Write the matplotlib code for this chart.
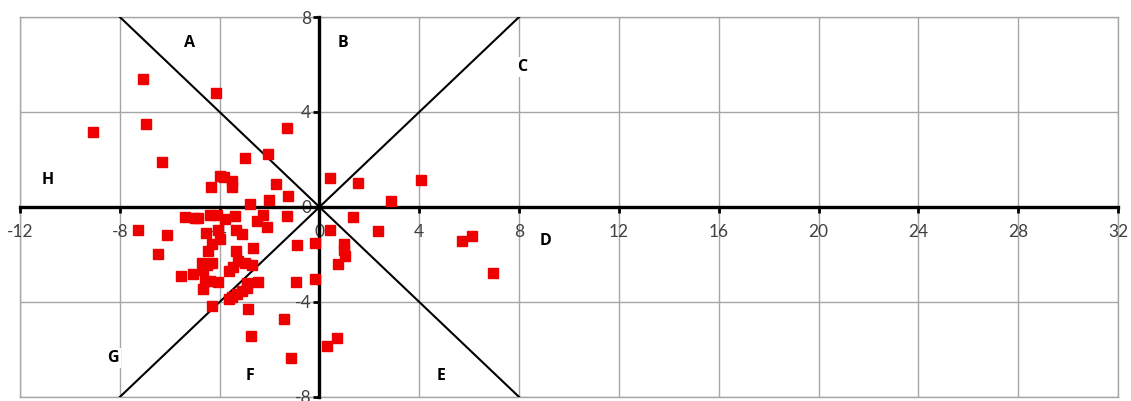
import numpy as np
import matplotlib.pyplot as plt

plt.rcParams['font.family'] = ['Lato', 'DejaVu Sans']

# scatter values
x_vals = [-9.06, -7.06, -6.96, -4.14, -1.31, -6.32, -2.97, -2.07, -3.98, -3.81,
          -3.52, -3.52, -4.36, -1.75, -1.27, -2.03, -2.78, 0.42, 1.56, 4.07,
          2.87, -1.29, 1.33, 0.42, 2.36, -0.91, -0.18, 0.99, 0.99, 1.04,
          0.76, 5.73, 6.13, 6.95, -0.94, -0.18, -1.41, 0.69, 0.29, -1.14,
          -4.32, -2.87, -2.75, -5.40, -4.99, -4.85, -4.38, -4.12, -3.78, -3.37,
          -2.25, -2.49, -2.11, -6.12, -4.56, -4.05, -3.34, -3.09, -3.98, -4.30,
          -4.45, -6.46, -3.34, -2.65, -4.72, -4.52, -4.32, -4.65, -3.25, -2.98,
          -2.71, -3.45, -3.61, -5.56, -5.05, -4.59, -4.38, -4.05, -4.68, -2.91,
          -2.91, -3.11, -3.31, -3.51, -3.61, -2.45, -7.29]
y_vals = [3.15, 5.38, 3.48, 4.80, 3.34, 1.88, 2.08, 2.22, 1.32, 1.25,
          1.11, 0.86, 0.86, 0.98, 0.48, 0.28, 0.11, 1.22, 1.00, 1.14,
          0.27, -0.38, -0.43, -0.98, -1.02, -1.61, -1.52, -1.56, -1.81, -2.06,
          -2.40, -1.44, -1.23, -2.78, -3.15, -3.03, -4.72, -5.50, -5.85, -6.36,
          -4.16, -4.31, -5.42, -0.42, -0.48, -0.48, -0.32, -0.32, -0.52, -0.37,
          -0.35, -0.58, -0.85, -1.17, -1.08, -0.97, -0.98, -1.12, -1.36, -1.57,
          -1.84, -1.98, -1.84, -1.71, -2.37, -2.44, -2.34, -2.65, -2.27, -2.37,
          -2.44, -2.51, -2.68, -2.89, -2.82, -3.12, -3.12, -3.17, -3.47, -3.19,
          -3.42, -3.52, -3.68, -3.78, -3.87, -3.14, -0.97]

x_ticks = [-12, -8, -4, 0, 4, 8, 12, 16, 20, 24, 28, 32]
y_ticks = [-8, -4, 0, 4, 8]

region_names = ['A', 'B', 'C', 'D', 'E', 'F', 'G', 'H']
region_x = [-5.19, 0.94, 8.11, 9.04, 4.87, -2.78, -8.27, -10.88]
region_y = [6.9, 6.9, 5.9, -1.43, -7.1, -7.1, -6.36, 1.14]

# the two dividing diagonals
diag1_x, diag1_y = [-8, 8], [8, -8]
diag2_x, diag2_y = [-8, 8], [-8, 8]

fig = plt.figure(figsize=(11.31, 4.01), dpi=100)
ax = fig.add_axes([0.0177, 0.01, 0.9708, 0.9476])

ax.set_xlim(-12, 32)
ax.set_ylim(-8, 8)
ax.set_xticks(x_ticks)
ax.set_yticks(y_ticks)
ax.grid(True, color='#a6a6a6', linewidth=1.0, zorder=0)
for v in (x_ticks[0], x_ticks[-1]):
    ax.axvline(v, color='#a6a6a6', linewidth=1.0, zorder=0, clip_on=False)
for v in (y_ticks[0], y_ticks[-1]):
    ax.axhline(v, color='#a6a6a6', linewidth=1.0, zorder=0, clip_on=False)

ax.spines['left'].set_position(('data', 0))
ax.spines['bottom'].set_position(('data', 0))
ax.spines['left'].set_linewidth(2.4)
ax.spines['bottom'].set_linewidth(2.4)
ax.spines['top'].set_visible(False)
ax.spines['right'].set_visible(False)
ax.spines['left'].set_zorder(2)
ax.spines['bottom'].set_zorder(2)

ax.tick_params(axis='x', direction='out', length=4, width=2, pad=8,
               labelsize=12.5, labelcolor='#404040')
ax.tick_params(axis='y', direction='out', length=4, width=2, pad=2,
               labelsize=12.5, labelcolor='#404040')
ax.set_xticklabels([str(t) for t in x_ticks])
ax.set_yticklabels([str(t) for t in y_ticks])

ax.plot(diag1_x, diag1_y, color='black', linewidth=1.5, zorder=3)
ax.plot(diag2_x, diag2_y, color='black', linewidth=1.5, zorder=3)

ax.plot(x_vals, y_vals, 's', color='#ee0000', markersize=7.5, linestyle='none', zorder=5)

for name, lx, ly in zip(region_names, region_x, region_y):
    ax.text(lx, ly, name, fontsize=11.5, fontweight='bold', ha='center', va='center',
            family=['Open Sans', 'DejaVu Sans'], zorder=4,
            bbox=dict(facecolor='white', edgecolor='none', pad=1.5))

plt.savefig('out.png', dpi=100)
plt.close()
